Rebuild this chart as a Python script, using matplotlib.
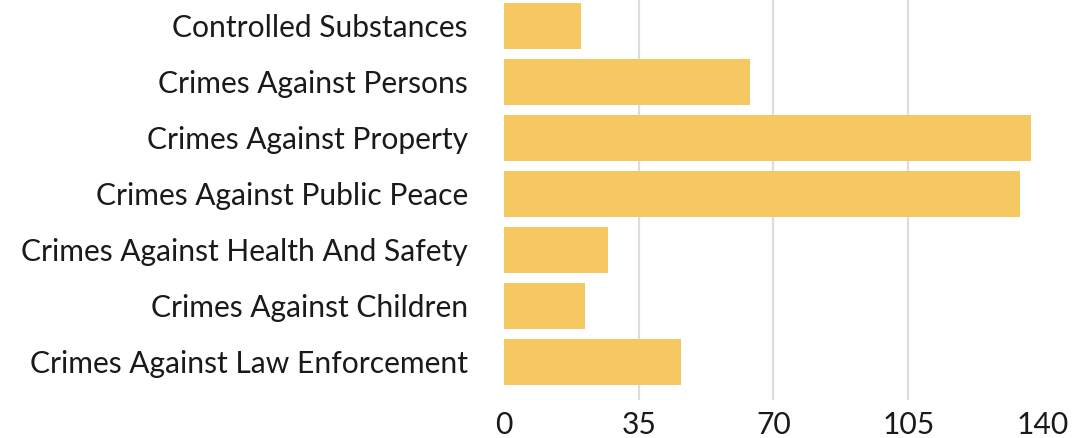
import matplotlib.pyplot as plt

# Data
categories = [
    'Controlled Substances',
    'Crimes Against Persons',
    'Crimes Against Property',
    'Crimes Against Public Peace',
    'Crimes Against Health And Safety',
    'Crimes Against Children',
    'Crimes Against Law Enforcement',
]
counts = [20, 64, 137, 134, 27, 21, 46]
x_ticks = [0, 35, 70, 105, 140]

plt.rcParams['font.family'] = ['Lato', 'DejaVu Sans']

fig = plt.figure(figsize=(10.78, 4.38), dpi=100)
ax = fig.add_axes([0.4675, 0.087, 0.5, 0.913])

ax.barh(range(len(categories)), counts, height=0.82, color='#F6C862', zorder=2)

ax.set_xlim(0, 140)
ax.set_ylim(6.68, -0.464)
ax.set_xticks(x_ticks)
ax.set_yticks(range(len(categories)))
ax.set_yticklabels(categories)
ax.tick_params(axis='y', length=0, pad=26, labelsize=21.6, labelcolor='#1a1a1a')
ax.tick_params(axis='x', length=0, pad=8, labelsize=21.6, labelcolor='#1a1a1a')

# gridlines only at the inner ticks
for t in x_ticks[1:-1]:
    ax.axvline(t, color='#dddddd', linewidth=1.6, zorder=0)
for s in ax.spines.values():
    s.set_visible(False)

fig.savefig('out.png', dpi=100)
